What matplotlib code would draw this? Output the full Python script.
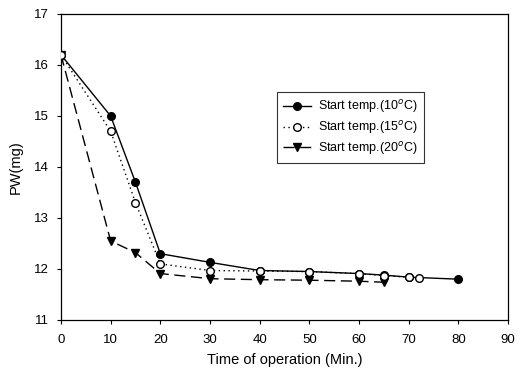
import matplotlib
matplotlib.use("Agg")
import matplotlib.pyplot as plt

plt.rcParams["font.family"] = ["Liberation Sans", "DejaVu Sans"]

# Operating time (min) and PW (mg) for each start temperature
t_10 = [0, 10, 15, 20, 30, 40, 50, 60, 65, 70, 80]
pw_10 = [16.2, 15.0, 13.7, 12.3, 12.13, 11.97, 11.95, 11.91, 11.88, 11.84, 11.8]

t_15 = [0, 10, 15, 20, 30, 40, 50, 60, 65, 70, 72]
pw_15 = [16.2, 14.7, 13.3, 12.1, 11.97, 11.96, 11.95, 11.91, 11.87, 11.84, 11.83]

t_20 = [0, 10, 15, 20, 30, 40, 50, 60, 65]
pw_20 = [16.2, 12.55, 12.32, 11.91, 11.81, 11.79, 11.78, 11.76, 11.74]

labels = ["Start temp.(10$^{o}$C)", "Start temp.(15$^{o}$C)", "Start temp.(20$^{o}$C)"]

fig = plt.figure(figsize=(5.27, 3.75), dpi=100)
ax = fig.add_axes([0.1157, 0.1467, 0.8483, 0.816])

ax.plot(t_10, pw_10, color="black", linestyle="-", linewidth=1.0,
        marker="o", markersize=5.5, markerfacecolor="black", label=labels[0], zorder=3)
ax.plot(t_15, pw_15, color="black", linestyle=(0, (1, 2.5)), linewidth=1.0,
        marker="o", markersize=5.5, markerfacecolor="white", label=labels[1], zorder=4)
ax.plot(t_20, pw_20, color="black", linestyle=(0, (8, 4)), linewidth=1.0,
        marker="v", markersize=5.5, markerfacecolor="black", label=labels[2], zorder=3)

ax.set_xlim(0, 90)
ax.set_ylim(11, 17)
ax.set_xticks(range(0, 91, 10))
ax.set_yticks(range(11, 18))
ax.tick_params(direction="out", length=3, width=0.8, labelsize=9.5)
ax.tick_params(axis="x", pad=7)
ax.tick_params(axis="y", pad=6)
for s in ax.spines.values():
    s.set_linewidth(0.9)

ax.set_xlabel("Time of operation (Min.)", fontsize=10.5, labelpad=5)
ax.set_ylabel("PW(mg)", fontsize=10.5, labelpad=8)

leg = ax.legend(loc="upper left", bbox_to_anchor=(0.483, 0.745), fontsize=9,
                frameon=True, fancybox=False, edgecolor="black",
                handlelength=2.2, borderpad=0.5, labelspacing=0.3, handletextpad=0.6,
                borderaxespad=0)
leg.get_frame().set_linewidth(0.8)

fig.savefig("out.png", dpi=100)
